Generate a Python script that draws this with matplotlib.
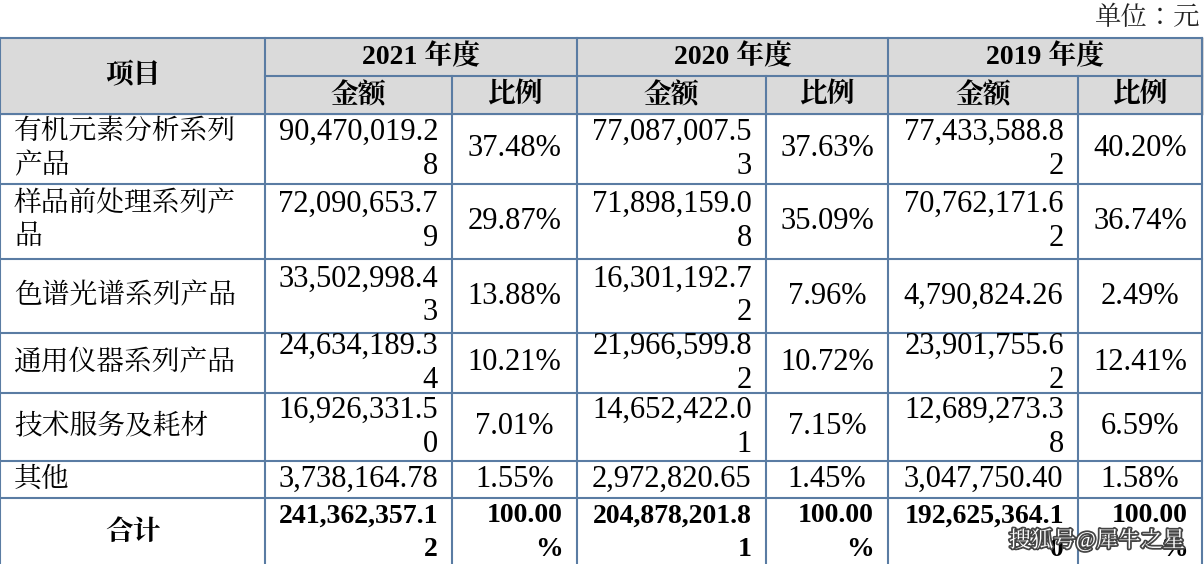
import matplotlib.pyplot as plt
import matplotlib.patheffects as pe
from matplotlib import font_manager as fm
from matplotlib.patches import Rectangle

# find an installed CJK font name
cjk = "Noto Sans CJK SC"
names = sorted({f.name for f in fm.fontManager.ttflist})
for n in names:
    if "CJK" in n:
        cjk = n
        if "SC" in n:
            break
plt.rcParams['font.family'] = ['Liberation Serif', cjk]

# data
items = ["有机元素分析系列\n产品", "样品前处理系列产\n品", "色谱光谱系列产品",
         "通用仪器系列产品", "技术服务及耗材", "其他"]
years = ["2021 年度", "2020 年度", "2019 年度"]
amounts = [
    ["90,470,019.2\n8", "77,087,007.5\n3", "77,433,588.8\n2"],
    ["72,090,653.7\n9", "71,898,159.0\n8", "70,762,171.6\n2"],
    ["33,502,998.4\n3", "16,301,192.7\n2", "4,790,824.26"],
    ["24,634,189.3\n4", "21,966,599.8\n2", "23,901,755.6\n2"],
    ["16,926,331.5\n0", "14,652,422.0\n1", "12,689,273.3\n8"],
    ["3,738,164.78", "2,972,820.65", "3,047,750.40"],
]
ratios = [
    ["37.48%", "37.63%", "40.20%"],
    ["29.87%", "35.09%", "36.74%"],
    ["13.88%", "7.96%", "2.49%"],
    ["10.21%", "10.72%", "12.41%"],
    ["7.01%", "7.15%", "6.59%"],
    ["1.55%", "1.45%", "1.58%"],
]
total_amounts = ["241,362,357.1\n2", "204,878,201.8\n1", "192,625,364.1\n0"]
total_ratios = ["100.00\n%", "100.00\n%", "100.00\n%"]

W, H = 1204, 564
fig = plt.figure(figsize=(12.04, 5.64), dpi=100)
ax = fig.add_axes([0, 0, 1, 1])
ax.set_xlim(0, W)
ax.set_ylim(H, 0)
ax.axis('off')

cols = [0, 265, 452, 577, 766, 888, 1078, 1202]
rows = [38, 76, 114, 184, 259, 333, 393, 461, 498, 570]
line_c = '#5a7ca3'
fs = 22      # numbers
fc = 20      # chinese text

ax.add_patch(Rectangle((0, rows[0]), W, rows[2] - rows[0], color='#dadada', zorder=0))
ax.text(1200, 18, "单位：元", ha='right', va='center', fontsize=fc - 1, color='#222')

# grid lines
for y in [rows[0], rows[2]] + rows[3:9]:
    ax.plot([0, cols[-1]], [y, y], color=line_c, lw=1.5)
for i in range(3):
    ax.plot([cols[1 + 2 * i], cols[3 + 2 * i]], [rows[1], rows[1]], color=line_c, lw=1.5)
for j, x in enumerate(cols):
    y0 = rows[1] if j in (2, 4, 6) else rows[0]
    ax.plot([x, x], [y0, H], color=line_c, lw=1.5)

# header
ax.text((cols[0] + cols[1]) / 2, (rows[0] + rows[2]) / 2, "项目", ha='center', va='center',
        fontsize=fc, fontweight='bold')
for i, yr in enumerate(years):
    a, b, c = cols[1 + 2 * i], cols[2 + 2 * i], cols[3 + 2 * i]
    ax.text((a + c) / 2, (rows[0] + rows[1]) / 2, yr, ha='center', va='center',
            fontsize=fc, fontweight='bold')
    ax.text((a + b) / 2, (rows[1] + rows[2]) / 2, "金额", ha='center', va='center',
            fontsize=fc, fontweight='bold')
    ax.text((b + c) / 2, (rows[1] + rows[2]) / 2, "比例", ha='center', va='center',
            fontsize=fc, fontweight='bold')


def cell(txt, x0, x1, y0, y1, bold=False):
    w = 'bold' if bold else 'normal'
    size = 20 if bold else fs
    yc = (y0 + y1) / 2
    if "\n" in txt:
        l1, l2 = txt.split("\n")
        ax.text(x1 - 14, yc - 17, l1, ha='right', va='center', fontsize=size, fontweight=w)
        ax.text(x1 - 14, yc + 17, l2, ha='right', va='center', fontsize=size, fontweight=w)
    else:
        ax.text((x0 + x1) / 2, yc, txt, ha='center', va='center', fontsize=size, fontweight=w)


for r, name in enumerate(items):
    y0, y1 = rows[r + 2], rows[r + 3]
    yc = (y0 + y1) / 2
    if "\n" in name:
        l1, l2 = name.split("\n")
        ax.text(14, yc - 17, l1, ha='left', va='center', fontsize=fc)
        ax.text(14, yc + 17, l2, ha='left', va='center', fontsize=fc)
    else:
        ax.text(14, yc, name, ha='left', va='center', fontsize=fc)
    for i in range(3):
        cell(amounts[r][i], cols[1 + 2 * i], cols[2 + 2 * i], y0, y1)
        cell(ratios[r][i], cols[2 + 2 * i], cols[3 + 2 * i], y0, y1)

# total row
y0, y1 = rows[8], 568
ax.text((cols[0] + cols[1]) / 2, (y0 + y1) / 2, "合计", ha='center', va='center',
        fontsize=fc, fontweight='bold')
for i in range(3):
    cell(total_amounts[i], cols[1 + 2 * i], cols[2 + 2 * i], y0, y1, bold=True)
    cell(total_ratios[i], cols[2 + 2 * i], cols[3 + 2 * i], y0, y1, bold=True)

# watermark
wm = ax.text(1185, 540, "搜狐号@犀牛之星", ha='right', va='center', fontsize=16,
             color='white', zorder=5)
wm.set_path_effects([pe.withStroke(linewidth=2.5, foreground='#444')])

fig.savefig("out.png", dpi=100)
